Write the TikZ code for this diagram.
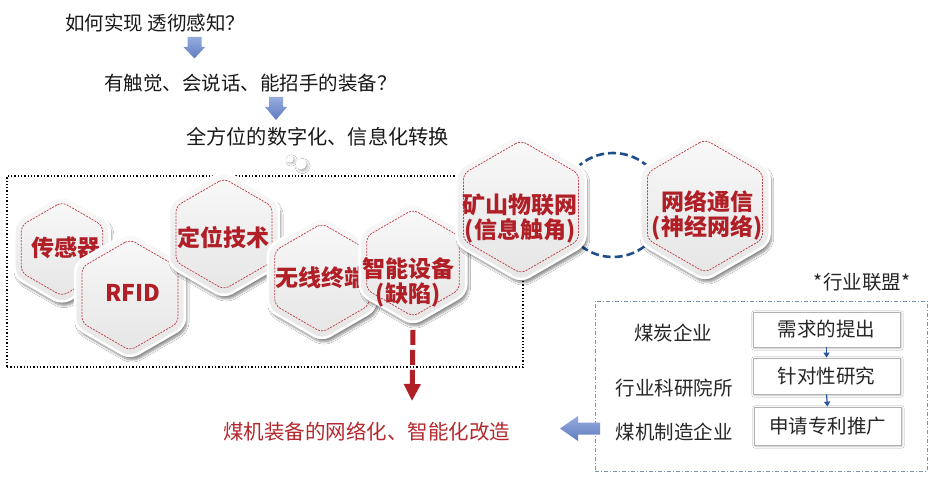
\documentclass[tikz,border=0pt]{standalone}
\usepackage{fontspec}
\setmainfont{Noto Sans CJK SC}
\usetikzlibrary{shapes.geometric,shadows.blur,arrows.meta}
\definecolor{hexred}{RGB}{176,30,38}
\definecolor{txtred}{RGB}{180,40,46}
\definecolor{navy}{RGB}{31,78,140}
\definecolor{arrowblue}{RGB}{96,124,192}
\definecolor{arrowbluelt}{RGB}{150,172,222}
\definecolor{boxblue}{RGB}{125,147,178}
\definecolor{darkblue}{RGB}{40,85,160}
\tikzset{
  hexouter/.style={regular polygon, regular polygon sides=6, shape border rotate=30,
    inner sep=0pt, rounded corners=9pt, draw=white, line width=2.5pt,
    top color=gray!4, bottom color=gray!20, middle color=gray!13,
    blur shadow={shadow xshift=2pt, shadow yshift=-4pt, shadow opacity=45, shadow blur steps=8}},
  hexinner/.style={regular polygon, regular polygon sides=6, shape border rotate=30,
    inner sep=0pt, rounded corners=6pt, draw=hexred!85, dash pattern=on 2pt off 1.2pt, line width=0.75pt},
  hextext/.style={text=hexred, font=\bfseries\fontsize{23}{25}\selectfont, align=center, inner sep=0pt},
  toptext/.style={font=\fontsize{19.5}{22}\selectfont, text=black!90, inner sep=0pt, anchor=west},
  sidetext/.style={font=\fontsize{19.5}{22}\selectfont, text=black!85, inner sep=0pt},
  stagebox/.style={draw=gray!60, line width=0.8pt, fill=white, minimum width=147pt, inner sep=0pt,
    font=\fontsize{19.5}{22}\selectfont, text=black!85,
    blur shadow={shadow xshift=1pt, shadow yshift=-1pt, shadow opacity=25, shadow blur steps=4}},
  smallarrow/.style={draw=darkblue, line width=1.2pt, -{Triangle[length=5pt,width=6pt]}},
  blockdown/.style={top color=arrowbluelt, bottom color=arrowblue, draw=none},
}
\newcommand{\hexcell}[7]{%
  \node[hexouter, minimum size=#4pt] (#1) at (#2,#3) {};
  \pgfmathsetmacro{\insz}{#4-16}
  \node[hexinner, minimum size=\insz pt] (#1in) at (#2,#3) {};
  \node[hextext] (#1txt) at (#5,#6) {#7};
}
\begin{document}
\begin{tikzpicture}[x=1pt,y=-1pt]
\fill[white] (0,0) rectangle (939,500);
\useasboundingbox (0,0) rectangle (939,500);

% top questions
\node[toptext] (q1) at (65,23) {如何实现 透彻感知？};
\node[toptext] (q2) at (104,83) {有触觉、会说话、能招手的装备？};
\node[toptext, font=\fontsize{20.2}{22}\selectfont] (q3) at (186,137) {全方位的数字化、信息化转换};

% block arrows down
\shade[blockdown] (187.5,37) -- (201.5,37) -- (201.5,47) -- (205,47) -- (194.5,58.5) -- (183.5,47) -- (187.5,47) -- cycle;
\shade[blockdown] (269,97) -- (283,97) -- (283,107) -- (287,107) -- (276,120) -- (265,107) -- (269,107) -- cycle;

% small bubble
\fill[white, blur shadow={shadow xshift=1.5pt, shadow yshift=-1.5pt, shadow opacity=30, shadow blur steps=4}] (290,159) circle (3.5);
\fill[white, blur shadow={shadow xshift=1.5pt, shadow yshift=-2pt, shadow opacity=30, shadow blur steps=4}] (301,164) circle (5.5);

% dotted frame
\node[draw=black, line width=1.3pt, dotted, minimum width=516pt, minimum height=191pt, inner sep=0pt] (frame) at (265,271.5) {};

% dashed link circle
\draw[navy, line width=2.6pt, dash pattern=on 8pt off 4pt] (613,205) circle (52);

% hexagons
\hexcell{sensor}{62}{249}{110}{66}{248}{传感器}
\hexcell{rfid}{130}{295}{127}{133}{293}{RFID}
\hexcell{locate}{224}{234}{127}{223}{238}{定位技术}
\hexcell{wireless}{322}{278}{125}{321}{278}{无线终端}
\hexcell{smart}{413}{263}{123}{408}{282}{智能设备\\(缺陷)}
\hexcell{mine}{521}{207}{149}{520}{218}{矿山物联网\\(信息触角)}
\hexcell{net}{705}{206}{149}{707}{215}{网络通信\\(神经网络)}

% red dashed arrow
\coordinate (goal) at (412,401);
\draw[hexred, line width=5pt, dash pattern=on 15pt off 5pt, -{Triangle[length=17pt,width=16pt]}]
  ([yshift=-4pt]smart.south) -- (goal);
\node[anchor=west, inner sep=0pt, text=txtred, font=\fontsize{20.5}{22}\selectfont] (result) at (223,432) {煤机装备的网络化、智能化改造};

% alliance box
\node[sidetext] (title) at (862,282) {*行业联盟*};
\node[draw=boxblue, line width=0.9pt, dash pattern=on 4pt off 2pt on 1pt off 2pt, minimum width=332pt, minimum height=170pt, inner sep=0pt] (alliance) at (761,386) {};
\node[sidetext] (coal) at (673,333) {煤炭企业};
\node[sidetext] (inst) at (674,388) {行业科研院所};
\node[sidetext] (maker) at (674,432) {煤机制造企业};
\node[stagebox, minimum height=35pt] (s1) at (826.5,329.5) {需求的提出};
\node[stagebox, minimum height=36pt] (s2) at (826.5,376) {针对性研究};
\node[stagebox, minimum height=38pt] (s3) at (827.5,426) {申请专利推广};
\draw[smallarrow] (s1.south) -- (s2.north);
\draw[smallarrow] (s2.south) -- (s3.north);

% block arrow left
\shade[top color=arrowbluelt, bottom color=arrowblue] (600,422.5) -- (578,422.5) -- (578,416) -- (560,428.5) -- (578,441) -- (578,434.5) -- (600,434.5) -- cycle;
\end{tikzpicture}
\end{document}
